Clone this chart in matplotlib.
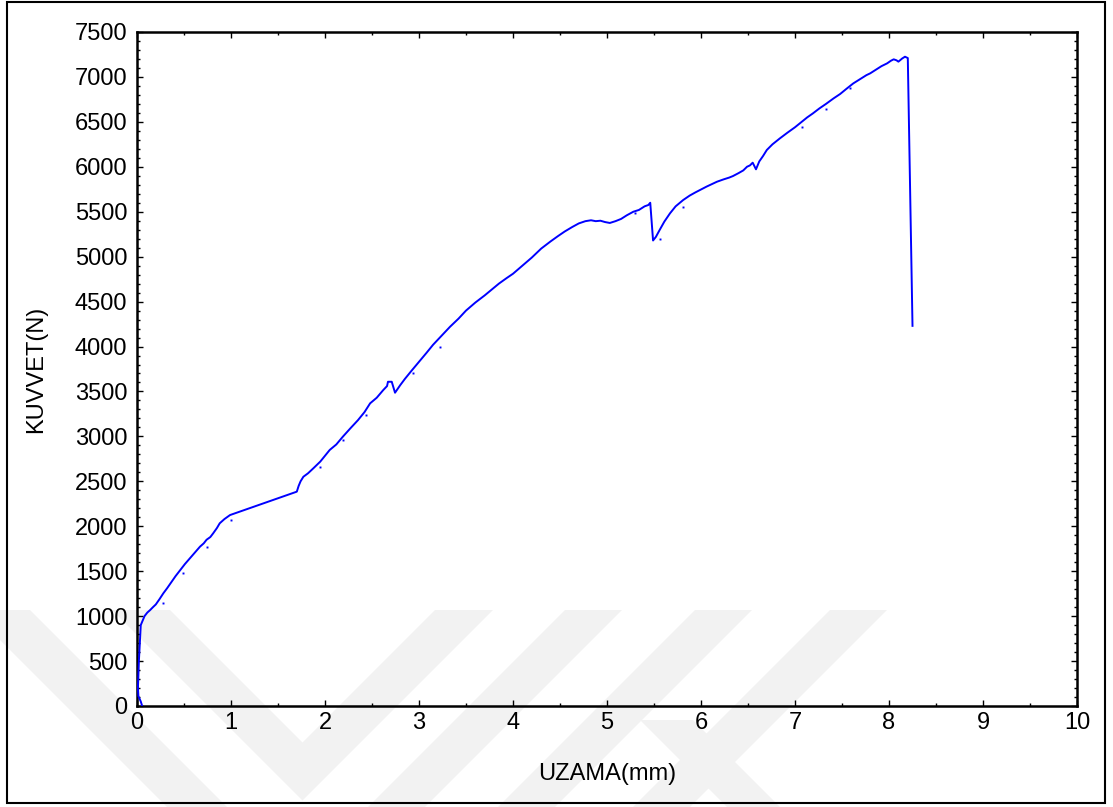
import matplotlib
matplotlib.use("Agg")
import matplotlib.pyplot as plt
from matplotlib.patches import Polygon, Rectangle
from matplotlib.ticker import MultipleLocator

plt.rcParams['font.family'] = ['Liberation Sans', 'DejaVu Sans']

# Tensile test record: elongation (mm) vs. force (N)
uzama = [0.055, 0.04, 0.015, 0.01, 0.02, 0.03, 0.04, 0.06, 0.08, 0.11, 0.14, 0.17,
         0.20, 0.24, 0.28, 0.32, 0.36, 0.41, 0.46, 0.51, 0.56, 0.61, 0.67, 0.71,
         0.74, 0.78, 0.81, 0.85, 0.88, 0.93, 0.99,
         1.70, 1.72, 1.74, 1.77, 1.82, 1.876, 1.95, 2.05, 2.12, 2.19, 2.27, 2.35,
         2.42, 2.48, 2.55, 2.62, 2.66, 2.67, 2.71, 2.745, 2.80, 2.85, 2.92, 3.00,
         3.08, 3.15, 3.24, 3.33, 3.42, 3.50, 3.60, 3.70, 3.78, 3.85, 3.93, 4.00,
         4.10, 4.20, 4.30, 4.40, 4.48, 4.55, 4.63, 4.70, 4.77, 4.83, 4.88, 4.93,
         4.98, 5.03, 5.09, 5.15, 5.21, 5.28, 5.34, 5.40, 5.44, 5.46, 5.49, 5.52,
         5.56, 5.61, 5.67, 5.73, 5.81, 5.88, 5.94, 5.99, 6.06, 6.12, 6.17, 6.24,
         6.30, 6.34, 6.40, 6.45, 6.49, 6.52, 6.55, 6.585, 6.62, 6.66, 6.70, 6.76,
         6.84, 6.92, 7.00, 7.07, 7.13, 7.19, 7.26, 7.33, 7.41, 7.48, 7.55, 7.62,
         7.70, 7.76, 7.80, 7.86, 7.92, 7.98, 8.02, 8.05, 8.08, 8.10, 8.14, 8.17,
         8.20, 8.25]
kuvvet = [0, 50, 110, 200, 500, 700, 900, 950, 1000, 1040, 1068, 1100,
          1130, 1190, 1254, 1310, 1370, 1445, 1513, 1580, 1640, 1700, 1773, 1810,
          1850, 1880, 1921, 1980, 2033, 2080, 2125,
          2385, 2450, 2500, 2551, 2590, 2645, 2720, 2849, 2910, 2997, 3090, 3180,
          3270, 3368, 3430, 3516, 3560, 3608, 3608, 3486, 3570, 3640, 3730, 3830,
          3930, 4020, 4120, 4220, 4310, 4400, 4490, 4570, 4640, 4700, 4760, 4810,
          4900, 4990, 5090, 5170, 5230, 5280, 5330, 5370, 5395, 5405, 5395, 5400,
          5385, 5375, 5395, 5420, 5460, 5500, 5520, 5560, 5575, 5600, 5180, 5220,
          5297, 5390, 5482, 5560, 5630, 5680, 5715, 5742, 5780, 5810, 5834, 5860,
          5880, 5897, 5930, 5960, 6001, 6015, 6046, 5972, 6060, 6120, 6187, 6250,
          6317, 6380, 6440, 6500, 6550, 6594, 6650, 6700, 6761, 6810, 6870, 6928,
          6980, 7020, 7040, 7080, 7120, 7151, 7180, 7196, 7185, 7170, 7205, 7225,
          7210, 4230]

# Isolated acquisition points off the main trace
nokta_x = [0.28, 0.49, 0.74, 1.00, 1.95, 2.19, 2.44, 2.94, 3.22, 5.30, 5.56, 5.81,
           7.07, 7.33, 7.59]
nokta_y = [1150, 1476, 1773, 2070, 2663, 2960, 3238, 3701, 3998, 5482, 5193, 5549,
           6446, 6643, 6872]

x_ticks = list(range(0, 11))
y_ticks = list(range(0, 7501, 500))

W, H = 1113, 807
fig = plt.figure(figsize=(W / 100, H / 100), dpi=100)
fig.patch.set_facecolor('white')


def to_fig(pts):
    return [(px / W, 1 - py / H) for px, py in pts]


def band(top_l, top_r, dx, y0=610, y1=830):
    d = (y1 - y0) * dx
    return to_fig([(top_l, y0), (top_r, y0), (top_r + d, y1), (top_l + d, y1)])


def chevron(ol, il, ir, orr, y0=610):
    t_in = (ir - il) / 2
    t_out = (orr - ol) / 2
    return to_fig([(ol, y0), (il, y0), (il + t_in, y0 + t_in), (ir, y0),
                   (orr, y0), (ol + t_out, y0 + t_out)])


# faint watermark in the lower part of the page
wm = '#f2f2f2'
shapes = [
    band(-30, 30, 1),
    chevron(112, 170, 435, 493),
    band(565, 622, -1),
    band(695, 752, -1),
    band(830, 887, -1),
    to_fig([(640, 720), (693, 720), (780, 807), (727, 807)]),
]
for s in shapes:
    fig.patches.append(Polygon(s, closed=True, transform=fig.transFigure,
                               facecolor=wm, edgecolor='none', zorder=-5))

# page frame
fig.patches.append(Rectangle((7 / W, 1 - 803 / H), 1098 / W, 801 / H,
                             transform=fig.transFigure, fill=False,
                             edgecolor='black', linewidth=1.5, zorder=5))

ax = fig.add_axes([137 / W, 1 - 706 / H, 940 / W, 674 / H])
ax.set_zorder(1)
ax.set_facecolor('none')
ax.plot(uzama, kuvvet, color='#0000ff', linewidth=1.4, zorder=3)
ax.plot(nokta_x, nokta_y, linestyle='none', marker='s', markersize=1.4,
        color='#0000ff', markeredgewidth=0, zorder=3)

ax.set_xlim(0, 10)
ax.set_ylim(0, 7500)
ax.set_xticks(x_ticks)
ax.set_yticks(y_ticks)
ax.xaxis.set_minor_locator(MultipleLocator(0.5))
ax.yaxis.set_minor_locator(MultipleLocator(100))
ax.tick_params(which='both', direction='in', top=True, right=True,
               labelsize=17, width=1.0, color='black')
ax.tick_params(which='major', length=4.5)
ax.tick_params(which='minor', length=2.4)
ax.tick_params(axis='y', which='major', pad=7)
ax.tick_params(axis='x', which='major', pad=4)
for sp in ax.spines.values():
    sp.set_linewidth(1.8)

ax.set_xlabel('UZAMA(mm)', fontsize=17, labelpad=21)
ax.set_ylabel('KUVVET(N)', fontsize=17, labelpad=20)

fig.savefig('out.png', dpi=100)
